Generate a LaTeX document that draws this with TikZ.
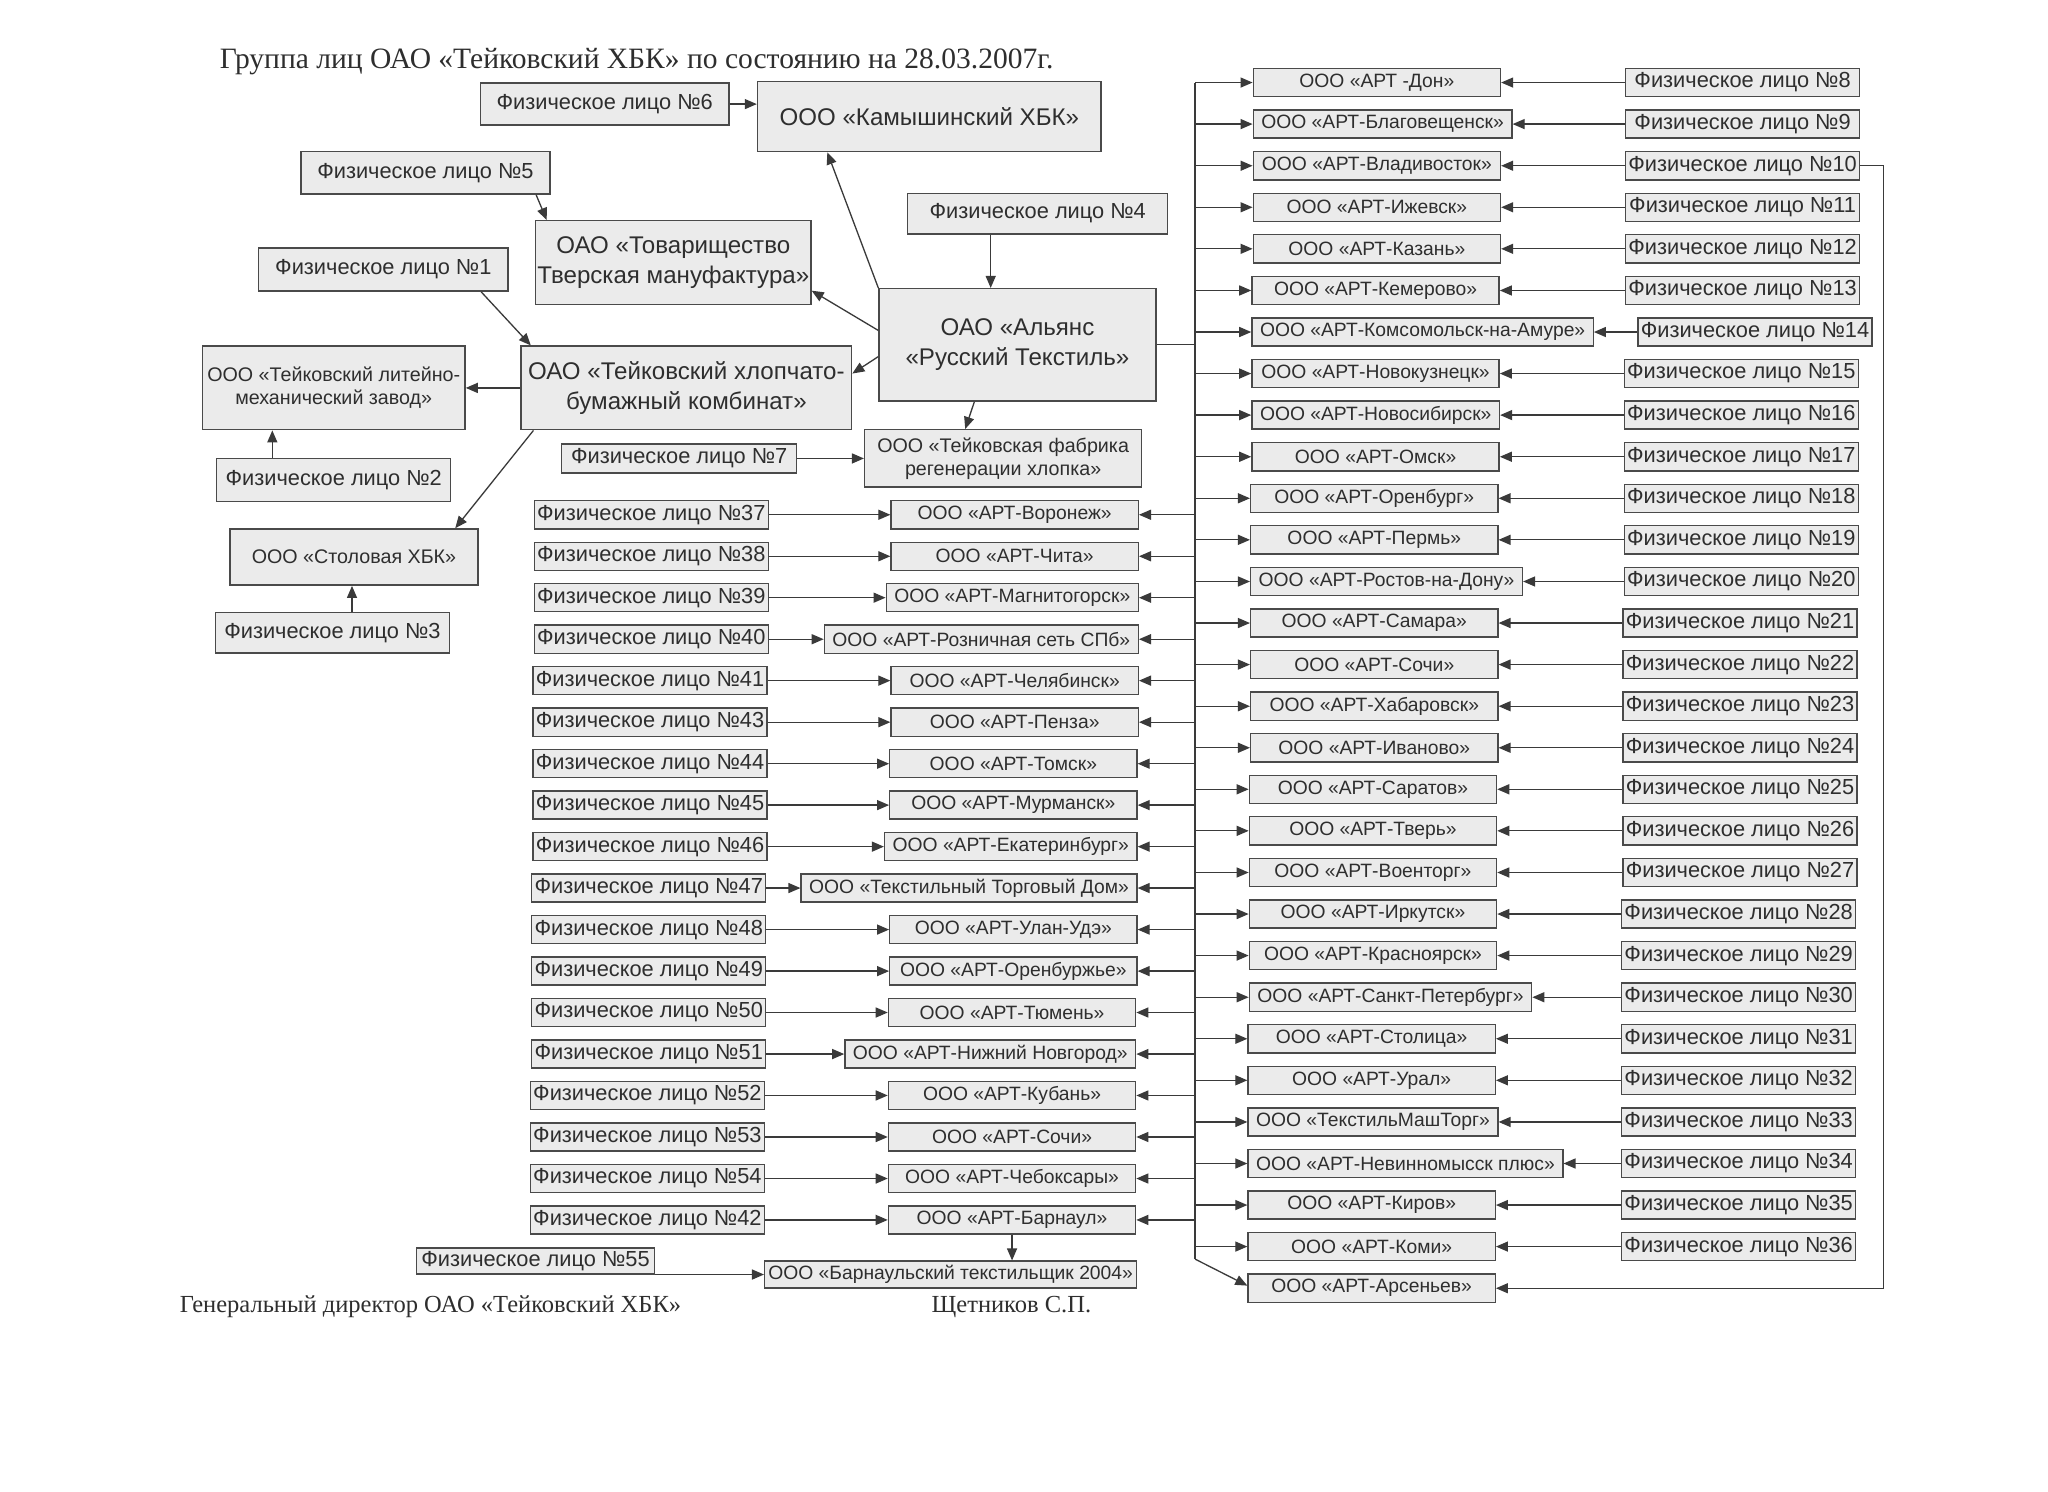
\documentclass[tikz,border=0pt]{standalone}
\usepackage{fontspec}
\setmainfont{Liberation Sans}
\newfontfamily\scanserif{Liberation Serif}
\usetikzlibrary{arrows.meta}
\definecolor{boxfill}{HTML}{EBEBEB}
\definecolor{boxline}{HTML}{4A4A4A}
\definecolor{ink}{HTML}{2E2E2E}
\definecolor{lnk}{HTML}{3A3A3A}
\tikzset{
  box/.style={draw=boxline, fill=boxfill, line width=0.7pt, text=ink, align=center, inner sep=1pt},
  art/.style={box, font=\fontsize{9.6}{11}\selectfont, minimum width=123pt, minimum height=14pt, inner xsep=4pt},
  pers/.style={box, font=\fontsize{10.85}{12.5}\selectfont, minimum width=116.5pt, minimum height=14pt, inner xsep=0.5pt},
  big/.style={box, font=\fontsize{12}{15}\selectfont, inner xsep=0.5pt},
  mid/.style={box, font=\fontsize{9.8}{11.6}\selectfont, inner xsep=0.5pt},
  wire/.style={draw=lnk, line width=0.65pt},
  arr/.style={wire, -{Triangle[length=6pt,width=5pt]}},
  scan/.style={text=ink, inner sep=0pt, anchor=base west},
}
\begin{document}
\begin{tikzpicture}[x=0.65pt,y=-0.65pt]
  \useasboundingbox[fill=white] (0,0) rectangle (1568,1142);
  % title and signature
  \node[scan, font=\scanserif\fontsize{14.7}{17}\selectfont] (title) at (168,52.3)
    {Группа лиц ОАО «Тейковский ХБК» по состоянию на 28.03.2007г.};
  \node[scan, font=\scanserif\fontsize{12.2}{14}\selectfont] (sign) at (137.5,1004.6)
    {Генеральный директор ОАО «Тейковский ХБК»};
  \node[scan, font=\scanserif\fontsize{12.2}{14}\selectfont] (signer) at (713,1004.6)
    {Щетников С.П.};

  % upper left group
  \node[big, minimum width=171pt, minimum height=34.8pt] (kam) at (711.5,89.3) {ООО «Камышинский ХБК»};
  \node[pers, minimum width=123.5pt, minimum height=20.8pt] (f6) at (463,79.7) {Физическое лицо №6};
  \node[pers, minimum width=123.8pt, minimum height=21.2pt] (f5) at (325.7,132.3) {Физическое лицо №5};
  \node[big, minimum width=137pt, minimum height=41.6pt] (tov) at (515.5,201) {ОАО «Товарищество\\Тверская мануфактура»};
  \node[pers, minimum width=124pt, minimum height=21.5pt] (f1) at (293.5,206.4) {Физическое лицо №1};
  \node[pers, minimum width=129.4pt, minimum height=20.2pt] (f4) at (794.5,163.5) {Физическое лицо №4};
  \node[big, minimum width=137.8pt, minimum height=55.9pt] (ally) at (779,264) {ОАО «Альянс\\«Русский Текстиль»};
  \node[big, minimum width=164.5pt, minimum height=41.6pt] (txbk) at (525.5,297) {ОАО «Тейковский хлопчато-\\бумажный комбинат»};
  \node[mid, minimum width=130.7pt, minimum height=41.6pt] (lit) at (255.5,297) {ООО «Тейковский литейно-\\механический завод»};
  \node[pers, minimum width=116.4pt, minimum height=21.5pt] (f2) at (255.5,367.5) {Физическое лицо №2};
  \node[mid, minimum width=123.5pt, minimum height=28pt] (stol) at (271,426.5) {ООО «Столовая ХБК»};
  \node[pers, minimum width=116.4pt, minimum height=20.2pt] (f3) at (254.5,484.5) {Физическое лицо №3};
  \node[pers, minimum width=117pt, minimum height=14.3pt] (f7) at (520,351) {Физическое лицо №7};
  \node[mid, minimum width=137.8pt, minimum height=28.6pt] (fab) at (768,351) {ООО «Тейковская фабрика\\регенерации хлопка»};

  \draw[arr] (f6.east) -- (f6.east -| kam.west);
  \draw[arr] ([shift={(-11,0)}]f5.south east) -- ([shift={(9,0)}]tov.north west);
  \draw[arr] ([shift={(-21,0)}]f1.south east) -- ([shift={(8,0)}]txbk.north west);
  \draw[arr] (ally.north west) -- ([shift={(54,0)}]kam.south west);
  \draw[arr] ([shift={(0,-11)}]ally.west) -- ([shift={(0,-11)}]tov.south east);
  \draw[arr] ([shift={(0,9)}]ally.west) -- ([shift={(0,-11)}]txbk.east);
  \draw[arr] ([shift={(-36,0)}]f4.south) -- ([shift={(-36,0)}]f4.south |- ally.north);
  \draw[arr] ([shift={(-33,0)}]ally.south) -- ([shift={(-29,0)}]fab.north);
  \draw[arr] (txbk.west) -- (lit.east);
  \draw[arr] ([shift={(-47,0)}]f2.north) -- ([shift={(-47,0)}]f2.north |- lit.south);
  \draw[arr] ([shift={(10,0)}]txbk.south west) -- ([shift={(-18,0)}]stol.north east);
  \draw[arr] ([shift={(15,0)}]f3.north) -- ([shift={(15,0)}]f3.north |- stol.south);
  \draw[arr] (f7) -- (fab);

  % right column
  \node[art, anchor=west] (r0) at (959,63.2) {ООО «АРТ -Дон»};
  \node[art, anchor=west] (r1) at (959,95.0) {ООО «АРТ-Благовещенск»};
  \node[art, anchor=west] (r2) at (959,126.9) {ООО «АРТ-Владивосток»};
  \node[art, anchor=west] (r3) at (959,158.7) {ООО «АРТ-Ижевск»};
  \node[art, anchor=west] (r4) at (959,190.5) {ООО «АРТ-Казань»};
  \node[art, anchor=west] (r5) at (958,222.4) {ООО «АРТ-Кемерово»};
  \node[art, anchor=west] (r6) at (958,254.2) {ООО «АРТ-Комсомольск-на-Амуре»};
  \node[art, anchor=west] (r7) at (958,286.0) {ООО «АРТ-Новокузнецк»};
  \node[art, anchor=west] (r8) at (958,317.8) {ООО «АРТ-Новосибирск»};
  \node[art, anchor=west] (r9) at (958,349.7) {ООО «АРТ-Омск»};
  \node[art, anchor=west] (r10) at (957,381.5) {ООО «АРТ-Оренбург»};
  \node[art, anchor=west] (r11) at (957,413.3) {ООО «АРТ-Пермь»};
  \node[art, anchor=west] (r12) at (957,445.2) {ООО «АРТ-Ростов-на-Дону»};
  \node[art, anchor=west] (r13) at (957,477.0) {ООО «АРТ-Самара»};
  \node[art, anchor=west] (r14) at (957,508.8) {ООО «АРТ-Сочи»};
  \node[art, anchor=west] (r15) at (957,540.7) {ООО «АРТ-Хабаровск»};
  \node[art, anchor=west] (r16) at (957,572.5) {ООО «АРТ-Иваново»};
  \node[art, anchor=west] (r17) at (956,604.3) {ООО «АРТ-Саратов»};
  \node[art, anchor=west] (r18) at (956,636.1) {ООО «АРТ-Тверь»};
  \node[art, anchor=west] (r19) at (956,668.0) {ООО «АРТ-Военторг»};
  \node[art, anchor=west] (r20) at (956,699.8) {ООО «АРТ-Иркутск»};
  \node[art, anchor=west] (r21) at (956,731.6) {ООО «АРТ-Красноярск»};
  \node[art, anchor=west] (r22) at (956,763.5) {ООО «АРТ-Санкт-Петербург»};
  \node[art, anchor=west] (r23) at (955,795.3) {ООО «АРТ-Столица»};
  \node[art, anchor=west] (r24) at (955,827.1) {ООО «АРТ-Урал»};
  \node[art, anchor=west] (r25) at (955,859.0) {ООО «ТекстильМашТорг»};
  \node[art, anchor=west] (r26) at (955,890.8) {ООО «АРТ-Невинномысск плюс»};
  \node[art, anchor=west] (r27) at (955,922.6) {ООО «АРТ-Киров»};
  \node[art, anchor=west] (r28) at (955,954.4) {ООО «АРТ-Коми»};
  \node[art, anchor=west] (r29) at (955,986.3) {ООО «АРТ-Арсеньев»};

  \node[pers, anchor=west] (f8) at (1244,63.2) {Физическое лицо №8};
  \node[pers, anchor=west] (f9) at (1244,95.0) {Физическое лицо №9};
  \node[pers, anchor=west] (f10) at (1244,126.9) {Физическое лицо №10};
  \node[pers, anchor=west] (f11) at (1244,158.7) {Физическое лицо №11};
  \node[pers, anchor=west] (f12) at (1244,190.5) {Физическое лицо №12};
  \node[pers, anchor=west] (f13) at (1244,222.4) {Физическое лицо №13};
  \node[pers, anchor=west] (f14) at (1253.5,254.2) {Физическое лицо №14};
  \node[pers, anchor=west] (f15) at (1243,286.0) {Физическое лицо №15};
  \node[pers, anchor=west] (f16) at (1243,317.8) {Физическое лицо №16};
  \node[pers, anchor=west] (f17) at (1243,349.7) {Физическое лицо №17};
  \node[pers, anchor=west] (f18) at (1243,381.5) {Физическое лицо №18};
  \node[pers, anchor=west] (f19) at (1243,413.3) {Физическое лицо №19};
  \node[pers, anchor=west] (f20) at (1243,445.2) {Физическое лицо №20};
  \node[pers, anchor=west] (f21) at (1242,477.0) {Физическое лицо №21};
  \node[pers, anchor=west] (f22) at (1242,508.8) {Физическое лицо №22};
  \node[pers, anchor=west] (f23) at (1242,540.7) {Физическое лицо №23};
  \node[pers, anchor=west] (f24) at (1242,572.5) {Физическое лицо №24};
  \node[pers, anchor=west] (f25) at (1242,604.3) {Физическое лицо №25};
  \node[pers, anchor=west] (f26) at (1242,636.1) {Физическое лицо №26};
  \node[pers, anchor=west] (f27) at (1242,668.0) {Физическое лицо №27};
  \node[pers, anchor=west] (f28) at (1241,699.8) {Физическое лицо №28};
  \node[pers, anchor=west] (f29) at (1241,731.6) {Физическое лицо №29};
  \node[pers, anchor=west] (f30) at (1241,763.5) {Физическое лицо №30};
  \node[pers, anchor=west] (f31) at (1241,795.3) {Физическое лицо №31};
  \node[pers, anchor=west] (f32) at (1241,827.1) {Физическое лицо №32};
  \node[pers, anchor=west] (f33) at (1241,859.0) {Физическое лицо №33};
  \node[pers, anchor=west] (f34) at (1241,890.8) {Физическое лицо №34};
  \node[pers, anchor=west] (f35) at (1241,922.6) {Физическое лицо №35};
  \node[pers, anchor=west] (f36) at (1241,954.4) {Физическое лицо №36};

  % left column
  \node[art, anchor=east] (l0) at (872,394.1) {ООО «АРТ-Воронеж»};
  \node[art, anchor=east] (l1) at (872,425.9) {ООО «АРТ-Чита»};
  \node[art, anchor=east] (l2) at (872,457.6) {ООО «АРТ-Магнитогорск»};
  \node[art, anchor=east] (l3) at (872,489.4) {ООО «АРТ-Розничная сеть СПб»};
  \node[art, anchor=east] (l4) at (872,521.1) {ООО «АРТ-Челябинск»};
  \node[art, anchor=east] (l5) at (872,552.9) {ООО «АРТ-Пенза»};
  \node[art, anchor=east] (l6) at (871,584.7) {ООО «АРТ-Томск»};
  \node[art, anchor=east] (l7) at (871,616.4) {ООО «АРТ-Мурманск»};
  \node[art, anchor=east] (l8) at (871,648.2) {ООО «АРТ-Екатеринбург»};
  \node[art, anchor=east] (l9) at (871,679.9) {ООО «Текстильный Торговый Дом»};
  \node[art, anchor=east] (l10) at (871,711.7) {ООО «АРТ-Улан-Удэ»};
  \node[art, anchor=east] (l11) at (871,743.5) {ООО «АРТ-Оренбуржье»};
  \node[art, anchor=east] (l12) at (870,775.2) {ООО «АРТ-Тюмень»};
  \node[art, anchor=east] (l13) at (870,807.0) {ООО «АРТ-Нижний Новгород»};
  \node[art, anchor=east] (l14) at (870,838.7) {ООО «АРТ-Кубань»};
  \node[art, anchor=east] (l15) at (870,870.5) {ООО «АРТ-Сочи»};
  \node[art, anchor=east] (l16) at (870,902.3) {ООО «АРТ-Чебоксары»};
  \node[art, anchor=east] (l17) at (870,934.0) {ООО «АРТ-Барнаул»};

  \node[pers, anchor=west] (f37) at (408.5,394.1) {Физическое лицо №37};
  \node[pers, anchor=west] (f38) at (408.5,425.9) {Физическое лицо №38};
  \node[pers, anchor=west] (f39) at (408.5,457.6) {Физическое лицо №39};
  \node[pers, anchor=west] (f40) at (408.5,489.4) {Физическое лицо №40};
  \node[pers, anchor=west] (f41) at (407.5,521.1) {Физическое лицо №41};
  \node[pers, anchor=west] (f43) at (407.5,552.9) {Физическое лицо №43};
  \node[pers, anchor=west] (f44) at (407.5,584.7) {Физическое лицо №44};
  \node[pers, anchor=west] (f45) at (407.5,616.4) {Физическое лицо №45};
  \node[pers, anchor=west] (f46) at (407.5,648.2) {Физическое лицо №46};
  \node[pers, anchor=west] (f47) at (406.5,679.9) {Физическое лицо №47};
  \node[pers, anchor=west] (f48) at (406.5,711.7) {Физическое лицо №48};
  \node[pers, anchor=west] (f49) at (406.5,743.5) {Физическое лицо №49};
  \node[pers, anchor=west] (f50) at (406.5,775.2) {Физическое лицо №50};
  \node[pers, anchor=west] (f51) at (406.5,807.0) {Физическое лицо №51};
  \node[pers, anchor=west] (f52) at (405.5,838.7) {Физическое лицо №52};
  \node[pers, anchor=west] (f53) at (405.5,870.5) {Физическое лицо №53};
  \node[pers, anchor=west] (f54) at (405.5,902.3) {Физическое лицо №54};
  \node[pers, anchor=west] (f42) at (405.5,934.0) {Физическое лицо №42};

  \node[pers, minimum width=118.3pt, minimum height=13pt] (f55) at (410,965.5) {Физическое лицо №55};
  \node[art, minimum width=185pt, minimum height=13.3pt, inner xsep=0.5pt] (bt) at (727.8,975.8) {ООО «Барнаульский текстильщик 2004»};

  % spine from the holding
  \coordinate (sp) at (915,63.2);
  \coordinate (spb) at (915,964);
  \coordinate (rt) at (1442,0);
  \draw[wire] (ally.east) -- (ally.east -| sp);
  \draw[wire] (sp) -- (spb);
  \draw[arr] (spb) -- ([shift={(0,-2)}]r29.west);
  \draw[arr] (f10.east) -- (f10.east -| rt) |- (r29.east);
  \draw[arr] (l17.south) -- (l17.south |- bt.north);
  \draw[arr] (f55.east |- bt.west) -- (bt.west);

  \draw[arr] (sp |- r0.west) -- (r0.west);   \draw[arr] (f8) -- (r0);
  \draw[arr] (sp |- r1.west) -- (r1.west);   \draw[arr] (f9) -- (r1);
  \draw[arr] (sp |- r2.west) -- (r2.west);   \draw[arr] (f10) -- (r2);
  \draw[arr] (sp |- r3.west) -- (r3.west);   \draw[arr] (f11) -- (r3);
  \draw[arr] (sp |- r4.west) -- (r4.west);   \draw[arr] (f12) -- (r4);
  \draw[arr] (sp |- r5.west) -- (r5.west);   \draw[arr] (f13) -- (r5);
  \draw[arr] (sp |- r6.west) -- (r6.west);   \draw[arr] (f14) -- (r6);
  \draw[arr] (sp |- r7.west) -- (r7.west);   \draw[arr] (f15) -- (r7);
  \draw[arr] (sp |- r8.west) -- (r8.west);   \draw[arr] (f16) -- (r8);
  \draw[arr] (sp |- r9.west) -- (r9.west);   \draw[arr] (f17) -- (r9);
  \draw[arr] (sp |- r10.west) -- (r10.west); \draw[arr] (f18) -- (r10);
  \draw[arr] (sp |- r11.west) -- (r11.west); \draw[arr] (f19) -- (r11);
  \draw[arr] (sp |- r12.west) -- (r12.west); \draw[arr] (f20) -- (r12);
  \draw[arr] (sp |- r13.west) -- (r13.west); \draw[arr] (f21) -- (r13);
  \draw[arr] (sp |- r14.west) -- (r14.west); \draw[arr] (f22) -- (r14);
  \draw[arr] (sp |- r15.west) -- (r15.west); \draw[arr] (f23) -- (r15);
  \draw[arr] (sp |- r16.west) -- (r16.west); \draw[arr] (f24) -- (r16);
  \draw[arr] (sp |- r17.west) -- (r17.west); \draw[arr] (f25) -- (r17);
  \draw[arr] (sp |- r18.west) -- (r18.west); \draw[arr] (f26) -- (r18);
  \draw[arr] (sp |- r19.west) -- (r19.west); \draw[arr] (f27) -- (r19);
  \draw[arr] (sp |- r20.west) -- (r20.west); \draw[arr] (f28) -- (r20);
  \draw[arr] (sp |- r21.west) -- (r21.west); \draw[arr] (f29) -- (r21);
  \draw[arr] (sp |- r22.west) -- (r22.west); \draw[arr] (f30) -- (r22);
  \draw[arr] (sp |- r23.west) -- (r23.west); \draw[arr] (f31) -- (r23);
  \draw[arr] (sp |- r24.west) -- (r24.west); \draw[arr] (f32) -- (r24);
  \draw[arr] (sp |- r25.west) -- (r25.west); \draw[arr] (f33) -- (r25);
  \draw[arr] (sp |- r26.west) -- (r26.west); \draw[arr] (f34) -- (r26);
  \draw[arr] (sp |- r27.west) -- (r27.west); \draw[arr] (f35) -- (r27);
  \draw[arr] (sp |- r28.west) -- (r28.west); \draw[arr] (f36) -- (r28);

  \draw[arr] (sp |- l0.east) -- (l0.east);   \draw[arr] (f37) -- (l0);
  \draw[arr] (sp |- l1.east) -- (l1.east);   \draw[arr] (f38) -- (l1);
  \draw[arr] (sp |- l2.east) -- (l2.east);   \draw[arr] (f39) -- (l2);
  \draw[arr] (sp |- l3.east) -- (l3.east);   \draw[arr] (f40) -- (l3);
  \draw[arr] (sp |- l4.east) -- (l4.east);   \draw[arr] (f41) -- (l4);
  \draw[arr] (sp |- l5.east) -- (l5.east);   \draw[arr] (f43) -- (l5);
  \draw[arr] (sp |- l6.east) -- (l6.east);   \draw[arr] (f44) -- (l6);
  \draw[arr] (sp |- l7.east) -- (l7.east);   \draw[arr] (f45) -- (l7);
  \draw[arr] (sp |- l8.east) -- (l8.east);   \draw[arr] (f46) -- (l8);
  \draw[arr] (sp |- l9.east) -- (l9.east);   \draw[arr] (f47) -- (l9);
  \draw[arr] (sp |- l10.east) -- (l10.east); \draw[arr] (f48) -- (l10);
  \draw[arr] (sp |- l11.east) -- (l11.east); \draw[arr] (f49) -- (l11);
  \draw[arr] (sp |- l12.east) -- (l12.east); \draw[arr] (f50) -- (l12);
  \draw[arr] (sp |- l13.east) -- (l13.east); \draw[arr] (f51) -- (l13);
  \draw[arr] (sp |- l14.east) -- (l14.east); \draw[arr] (f52) -- (l14);
  \draw[arr] (sp |- l15.east) -- (l15.east); \draw[arr] (f53) -- (l15);
  \draw[arr] (sp |- l16.east) -- (l16.east); \draw[arr] (f54) -- (l16);
  \draw[arr] (sp |- l17.east) -- (l17.east); \draw[arr] (f42) -- (l17);
\end{tikzpicture}
\end{document}
